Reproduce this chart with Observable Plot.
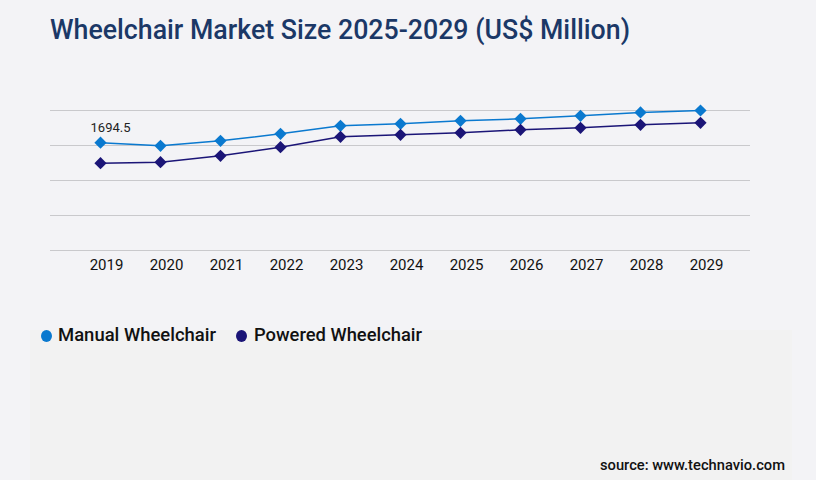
<!DOCTYPE html>
<html>
<head>
<meta charset="utf-8">
<script src="https://cdn.jsdelivr.net/npm/d3@7"></script>
<script src="https://cdn.jsdelivr.net/npm/@observablehq/plot@0.6"></script>
<style>
  html, body { margin: 0; padding: 0; background: #f3f3f6; }
  #wrap { position: relative; width: 816px; height: 480px; overflow: hidden; background: #f3f3f6; font-family: Roboto, "Noto Sans", sans-serif; }
  #lowerbox { position: absolute; left: 30px; top: 330px; width: 762px; height: 150px; background: #f2f2f2; }
  #chart { position: absolute; left: 0; top: 0; }
  .fit { position: absolute; white-space: nowrap; transform-origin: 0 50%; }
  #title { left: 50px; top: 13px; font-size: 27px; font-weight: 500; color: #1b3867; line-height: 34px; }
  .leg { font-size: 18px; font-weight: 500; color: #111; line-height: 22px; top: 324px; }
  .dot { position: absolute; width: 11px; height: 12px; border-radius: 50%; top: 330px; }
  #source { font-size: 14px; font-weight: 500; color: #111; line-height: 18px; top: 456px; }
</style>
</head>
<body>
<div id="wrap">
  <div id="lowerbox"></div>
  <div id="chart"></div>
  <div id="title" class="fit" data-w="580">Wheelchair Market Size 2025-2029 (US$ Million)</div>
  <div class="dot" id="dot1" style="left:41px;"></div>
  <div class="fit leg" id="leg1" data-w="158" style="left:58px;"></div>
  <div class="dot" id="dot2" style="left:236px;"></div>
  <div class="fit leg" id="leg2" data-w="168" style="left:254px;"></div>
  <div id="source" class="fit" data-w="185" style="left:600px;">source: www.technavio.com</div>
</div>
<script>
const years = [2019, 2020, 2021, 2022, 2023, 2024, 2025, 2026, 2027, 2028, 2029];
const seriesNames = ["Manual Wheelchair", "Powered Wheelchair"];
const seriesColors = ["#0a79cf", "#1b1577"];
const manual = [1694.5, 1645, 1724, 1834, 1959, 1991, 2038, 2069, 2117, 2169, 2200];
const powered = [1372, 1388, 1488, 1624, 1786, 1818, 1849, 1896, 1928, 1975, 2007];
const yTicks = [0, 550, 1100, 1650, 2200];

const rows = [];
years.forEach((yr, i) => {
  rows.push({year: yr, series: seriesNames[0], value: manual[i]});
  rows.push({year: yr, series: seriesNames[1], value: powered[i]});
});
const labelRows = [{year: years[0], series: seriesNames[0], value: manual[0]}];

const plot = Plot.plot({
  width: 816,
  height: 290,
  marginTop: 110,
  marginBottom: 40,
  marginLeft: 50,
  marginRight: 66,
  style: {background: "transparent", color: "#111", fontFamily: "Roboto, 'Noto Sans', sans-serif", fontSize: "15px", overflow: "visible"},
  x: {type: "point", domain: years, padding: 0.8333, label: null},
  y: {domain: [0, 2200], axis: null},
  color: {domain: seriesNames, range: seriesColors},
  marks: [
    Plot.gridY(yTicks, {stroke: "#c9c9cc", strokeOpacity: 1, strokeWidth: 1}),
    Plot.axisX({tickSize: 0, tickPadding: 9, dx: 6, label: null, tickFormat: d => String(d), fontSize: 15, fill: "#111"}),
    Plot.line(rows, {x: "year", y: "value", z: "series", stroke: "series", strokeWidth: 1.5}),
    Plot.dot(rows, {x: "year", y: "value", fill: "series", symbol: "diamond2", r: 5.5}),
    Plot.text(labelRows, {x: "year", y: "value", text: d => d.value.toFixed(1), dx: 10, dy: -15, fontSize: 13, fill: "#222"})
  ]
});
document.getElementById("chart").appendChild(plot);

document.getElementById("leg1").textContent = seriesNames[0];
document.getElementById("leg2").textContent = seriesNames[1];
document.getElementById("dot1").style.background = seriesColors[0];
document.getElementById("dot2").style.background = seriesColors[1];

document.querySelectorAll(".fit").forEach(el => {
  const target = +el.dataset.w;
  const w = el.getBoundingClientRect().width;
  if (w > 0 && target) el.style.transform = `scaleX(${target / w})`;
});
</script>
</body>
</html>
